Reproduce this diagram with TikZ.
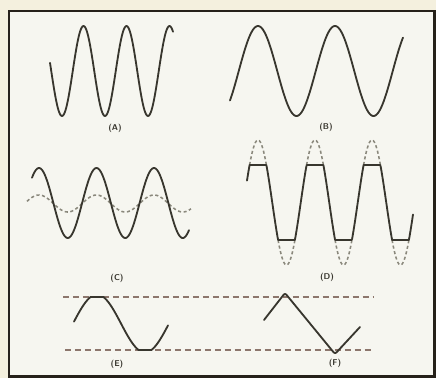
\documentclass[tikz,border=0pt]{standalone}
\usepackage{tikz}
\definecolor{InkGray}{RGB}{56,54,46}
\definecolor{GhostGray}{RGB}{138,136,124}
\definecolor{LimitBrown}{RGB}{140,118,108}
\definecolor{FrameDark}{RGB}{38,33,26}
\definecolor{PaperWhite}{RGB}{246,246,240}
\definecolor{OuterCream}{RGB}{244,240,222}

\begin{document}
\begin{tikzpicture}[
    x=0.025cm, y=-0.025cm,
    wave/.style={draw=InkGray, line width=1.3pt, line join=round, line cap=round},
    ghost/.style={draw=GhostGray, line width=1.1pt, dash pattern=on 2.2pt off 1.8pt},
    limit/.style={draw=LimitBrown, line width=1.1pt, dash pattern=on 4.5pt off 2.6pt},
    lbl/.style={font=\fontsize{6}{7}\selectfont\sffamily\bfseries, text=InkGray, inner sep=0pt}
  ]
    \useasboundingbox (0,0) rectangle (436,378);
    \fill[OuterCream] (0,0) rectangle (436,378);
    \draw[draw=FrameDark, line width=2pt, fill=PaperWhite] (9,11) rectangle (434.5,376.5);

    \draw[wave] plot[domain=50:173, samples=160] (\x,{71+45*cos((\x-62)/43*360)});
    \draw[wave] plot[domain=230:403, samples=160] (\x,{71-45*cos((\x-258)/77*360)});

    \draw[ghost] plot[domain=27:191, samples=120] (\x,{203.5-8.5*cos((\x-39)/57.5*360)});
    \draw[wave] plot[domain=32:189, samples=200] (\x,{203-35*cos((\x-39)/57.5*360)});

    \foreach \p in {258,315,372}
      \draw[ghost] plot[domain=\p-8.4:\p+8.4, samples=30] (\x,{202.5-62.5*cos((\x-258)/57*360)});
    \foreach \p in {286.5,343.5,400.5}
      \draw[ghost] plot[domain=\p-8.4:\p+8.4, samples=30] (\x,{202.5-62.5*cos((\x-258)/57*360)});
    \draw[wave] plot[domain=247:413, samples=320] (\x,{max(165,min(240,202.5-62.5*cos((\x-258)/57*360)))});

    \draw[limit] (63,297) -- (374,297);
    \draw[limit] (65,350) -- (374,350);
    \draw[wave] plot[domain=74:168, samples=200] (\x,{max(297,min(350,323.5-29*cos((\x-97)/96*360)))});
    \draw[wave, rounded corners=1.5pt] (264,320) -- (285,293) -- (335,354) -- (360,327);

    \node[lbl] (labA) at (115,128) {(A)};
    \node[lbl] (labB) at (326,127) {(B)};
    \node[lbl] (labC) at (117,278) {(C)};
    \node[lbl] (labD) at (327,277) {(D)};
    \node[lbl] (labE) at (117,364) {(E)};
    \node[lbl] (labF) at (335,363) {(F)};
  \end{tikzpicture}
\end{document}
